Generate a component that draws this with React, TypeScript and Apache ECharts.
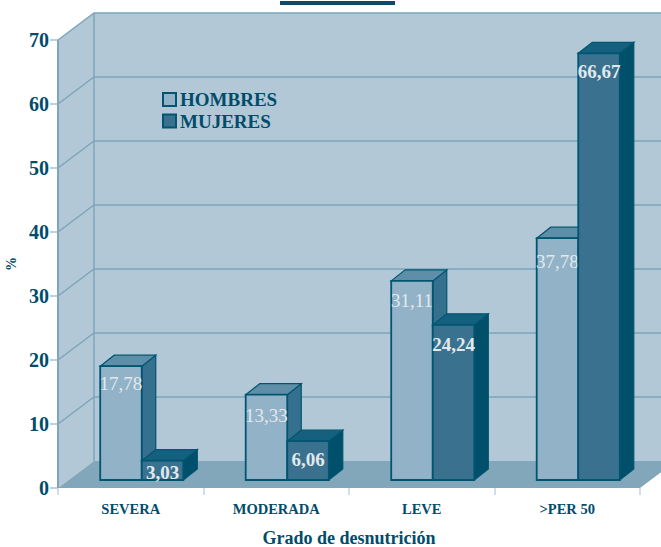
import React, { useEffect, useRef } from "react";
import * as echarts from "echarts";

const categories = ["SEVERA", "MODERADA", "LEVE", ">PER 50"];
const hombres = [17.78, 13.33, 31.11, 37.78];
const mujeres = [3.03, 6.06, 24.24, 66.67];
const hombresLabels = ["17,78", "13,33", "31,11", "37,78"];
const mujeresLabels = ["3,03", "6,06", "24,24", "66,67"];
const yTicks = [0, 10, 20, 30, 40, 50, 60, 70];

// Pixel drop of each value label below the top of its bar.
const hombresLabelDrop = [17, 21, 20, 23];
const mujeresLabelDrop = [12, 18, 20, 18];

const INK = "#004c6b";
const WALL = "#b2c8d6";
const FLOOR = "#82a6ba";
const RULE = "#7ea5bb";
const LABEL = "#e2e9ee";
const EDGE = "#005570";
const SERIF = "'Liberation Serif', serif";

// Projection of the box: depth of the walls and of the bars, on screen.
const DEPTH_X = 36;
const DEPTH_Y = -27;
const BAR_DEPTH_X = 14;
const BAR_DEPTH_Y = -11;
const BAR_SHIFT_X = 11;
const BAR_SHIFT_Y = -8;
const BAR_RATIO = 0.2855;

const poly = (points: number[][], fill: string, stroke?: string, lineWidth = 0) => ({
  type: "polygon",
  shape: { points },
  style: { fill, stroke, lineWidth },
});

function renderRoom(_: any, api: any) {
  const band = api.size([1, 0])[0];
  const x0 = api.coord([0, 0])[0] - band / 2;
  const x1 = x0 + band * categories.length;
  const y0 = api.coord([0, 0])[1];
  const yT = api.coord([0, 70])[1];
  const children: any[] = [
    poly([[x0 + DEPTH_X, yT + DEPTH_Y], [x1 + DEPTH_X, yT + DEPTH_Y], [x1 + DEPTH_X, y0 + DEPTH_Y], [x0 + DEPTH_X, y0 + DEPTH_Y]], WALL),
    poly([[x0, yT], [x0 + DEPTH_X, yT + DEPTH_Y], [x0 + DEPTH_X, y0 + DEPTH_Y], [x0, y0]], WALL),
    poly([[x0, y0], [x0 + DEPTH_X, y0 + DEPTH_Y], [x1 + DEPTH_X, y0 + DEPTH_Y], [x1, y0]], FLOOR),
  ];
  for (const t of yTicks) {
    if (t === 0) continue;
    const y = api.coord([0, t])[1];
    children.push({
      type: "polyline",
      shape: { points: [[x0, y], [x0 + DEPTH_X, y + DEPTH_Y], [x1 + DEPTH_X, y + DEPTH_Y]] },
      style: { fill: "none", stroke: RULE, lineWidth: 1.5 },
    });
  }
  children.push({
    type: "line",
    shape: { x1: x0 + DEPTH_X, y1: yT + DEPTH_Y, x2: x0 + DEPTH_X, y2: y0 + DEPTH_Y },
    style: { stroke: RULE, lineWidth: 1.5 },
  });
  children.push({
    type: "line",
    shape: { x1: x0, y1: yT, x2: x0, y2: y0 },
    style: { stroke: RULE, lineWidth: 2 },
  });
  return { type: "group", children };
}

function makeBarRenderer(
  side: -1 | 0,
  front: string,
  top: string,
  flank: string,
  labels: string[],
  drops: number[],
  labelWeight: string,
) {
  return (params: any, api: any) => {
    const cat = api.value(0);
    const base = api.coord([cat, 0]);
    const head = api.coord([cat, api.value(1)]);
    const w = api.size([1, 0])[0] * BAR_RATIO;
    const xL = base[0] + BAR_SHIFT_X + side * w;
    const xR = xL + w;
    const yB = base[1] + BAR_SHIFT_Y;
    const yT = head[1] + BAR_SHIFT_Y;
    const dx = BAR_DEPTH_X;
    const dy = BAR_DEPTH_Y;
    return {
      type: "group",
      children: [
        poly([[xR, yT], [xR + dx, yT + dy], [xR + dx, yB + dy], [xR, yB]], flank, EDGE, 1.2),
        poly([[xL, yT], [xL + dx, yT + dy], [xR + dx, yT + dy], [xR, yT]], top, EDGE, 1.2),
        poly([[xL, yT], [xR, yT], [xR, yB], [xL, yB]], front, EDGE, 1.8),
        {
          type: "text",
          z2: 20,
          x: (xL + xR) / 2,
          y: yT + drops[params.dataIndex],
          style: {
            text: labels[params.dataIndex],
            fill: LABEL,
            font: `${labelWeight} 19px ${SERIF}`,
            align: "center",
            verticalAlign: "middle",
          },
        },
      ],
    };
  };
}

export default function App() {
  const ref = useRef<HTMLDivElement>(null);

  useEffect(() => {
    const chart = echarts.init(ref.current!, undefined, { renderer: "svg" });
    chart.setOption({
      animation: false,
      backgroundColor: "#ffffff",
      grid: { left: 58, right: 21, top: 40, bottom: 59, outerBoundsMode: "none" },
      legend: {
        left: 162,
        top: 90,
        padding: 0,
        orient: "vertical",
        icon: "rect",
        itemWidth: 13,
        itemHeight: 13,
        itemGap: 2.5,
        data: ["HOMBRES", "MUJERES"],
        textStyle: {
          color: INK,
          fontFamily: SERIF,
          fontWeight: "bold",
          fontSize: 19,
          padding: [0, 0, 0, -1],
        },
      },
      xAxis: {
        type: "category",
        data: categories,
        name: "Grado de desnutrición",
        nameLocation: "middle",
        nameGap: 41,
        nameTextStyle: { color: INK, fontFamily: SERIF, fontWeight: "bold", fontSize: 18 },
        axisLine: { show: false },
        axisTick: { show: true, length: 7, lineStyle: { color: "#c3d4de", width: 1.5 } },
        axisLabel: { color: INK, fontFamily: SERIF, fontWeight: "bold", fontSize: 14.5, margin: 13 },
      },
      yAxis: {
        type: "value",
        min: 0,
        max: 70,
        interval: 10,
        name: "%",
        nameLocation: "middle",
        nameGap: 33,
        nameTextStyle: { color: INK, fontFamily: SERIF, fontWeight: "bold", fontSize: 14 },
        axisLine: { show: false },
        splitLine: { show: false },
        axisTick: { show: true, length: 8, lineStyle: { color: "#a9c2d0", width: 1.5 } },
        axisLabel: { color: INK, fontFamily: SERIF, fontWeight: "bold", fontSize: 20, margin: 9 },
      },
      graphic: [
        { type: "rect", shape: { x: 280, y: 1, width: 115, height: 4 }, style: { fill: "#0c4a68" } },
      ],
      series: [
        {
          name: "room",
          type: "custom",
          clip: false,
          z: 1,
          silent: true,
          renderItem: renderRoom,
          data: [[0, 0]],
          encode: { x: 0, y: 1 },
        },
        {
          name: "HOMBRES",
          type: "custom",
          clip: false,
          z: 2,
          itemStyle: { color: "#92b2c7", borderColor: EDGE, borderWidth: 1.5 },
          renderItem: makeBarRenderer(-1, "#92b2c7", "#5f8fa8", "#36708f", hombresLabels, hombresLabelDrop, "normal"),
          data: hombres.map((v, i) => [i, v]),
          encode: { x: 0, y: 1 },
        },
        {
          name: "MUJERES",
          type: "custom",
          clip: false,
          z: 3,
          itemStyle: { color: "#3a718f", borderColor: EDGE, borderWidth: 1.5 },
          renderItem: makeBarRenderer(0, "#3a718f", "#14607e", "#004f6b", mujeresLabels, mujeresLabelDrop, "bold"),
          data: mujeres.map((v, i) => [i, v]),
          encode: { x: 0, y: 1 },
        },
      ],
    });
    return () => chart.dispose();
  }, []);

  return (
    <div
      ref={ref}
      style={{ position: "fixed", left: 0, top: 0, width: 661, height: 547 }}
    />
  );
}
